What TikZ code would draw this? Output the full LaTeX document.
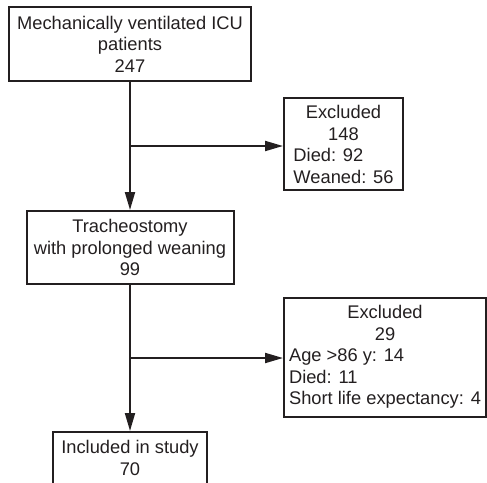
\documentclass[tikz,border=0pt]{standalone}
\usepackage{fontspec}
\setmainfont{Liberation Sans}
\usetikzlibrary{arrows.meta,calc}
\definecolor{ink}{RGB}{35,31,32}
\newcommand\fs{\fontsize{18.3}{21.5}\selectfont}
\begin{document}
\begin{tikzpicture}[x=1pt,y=-1pt,
  box/.style={draw=ink, line width=2pt, inner sep=0pt, align=center, font=\fs, text=ink},
  arr/.style={draw=ink, line width=2pt, -{Triangle[length=18pt,width=10pt]}}]
\useasboundingbox (0,0) rectangle (487,482);
\clip (0,0) rectangle (487,482);
\node[box, minimum width=242pt, minimum height=74pt] (b1) at (130,44) {Mechanically ventilated ICU\\patients\\247};
\node[box, minimum width=119pt, minimum height=92pt] (e1) at (343.5,144) {\raisebox{-2.5pt}[\height][\depth]{\begin{tabular}{@{}l@{}}\multicolumn{1}{@{}c@{}}{Excluded}\\\multicolumn{1}{@{}c@{}}{148}\\Died: 92\\Weaned: 56\end{tabular}}};
\node[box, minimum width=207pt, minimum height=73pt] (b2) at (130,247.5) {Tracheostomy\\with prolonged weaning\\99};
\node[box, minimum width=202pt, minimum height=119pt] (e2) at (385,357.5) {\begin{tabular}{@{}l@{}}\multicolumn{1}{@{}c@{}}{Excluded}\\\multicolumn{1}{@{}c@{}}{29}\\Age >86 y: 14\\Died: 11\\Short life expectancy: 4\end{tabular}};
\node[box, minimum width=154pt, minimum height=80pt, anchor=north] (b3) at (130,431) {};
\node[font=\fs, text=ink, align=center] (inc) at (130,458) {Included in study\\70};
\coordinate (j1) at ($(b1.south)!0.5!(b2.north)$);
\coordinate (j2) at ($(b2.south)!0.5!(b3.north)$);
\draw[arr] (b1.south) -- (b2.north);
\draw[arr] (j1) -- (j1 -| e1.west);
\draw[arr] (b2.south) -- (b3.north);
\draw[arr] (j2) -- (j2 -| e2.west);
\end{tikzpicture}
\end{document}
